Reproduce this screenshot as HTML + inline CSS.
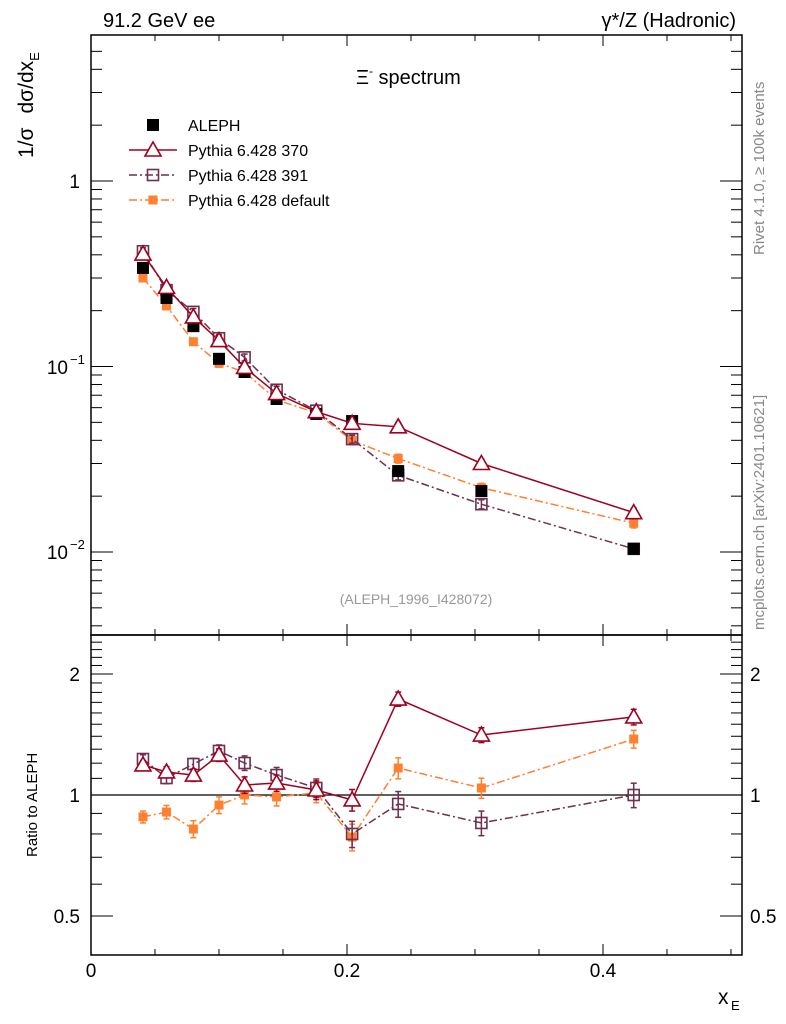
<!DOCTYPE html>
<html><head><meta charset="utf-8"><style>
body{margin:0;background:#fff}
svg{display:block;font-family:"Liberation Sans",sans-serif}
</style></head><body>
<svg id="c" width="786" height="1024" viewBox="0 0 786 1024" xmlns="http://www.w3.org/2000/svg"></svg>
<script>
const xVals=[0.0406,0.059,0.080,0.100,0.120,0.145,0.176,0.204,0.240,0.305,0.424];
const alephVals=[0.340,0.234,0.165,0.110,0.0934,0.0668,0.0555,0.0508,0.0273,0.0213,0.0104];
const alephErr=[0.015,0.01,0.007,0.005,0.004,0.003,0.0025,0.0025,0.0015,0.0012,0.0006];
const p370Vals=[0.404,0.267,0.185,0.138,0.0989,0.0715,0.0571,0.0494,0.0473,0.0300,0.0163];
const p391Vals=[0.418,0.258,0.197,0.142,0.112,0.0749,0.0578,0.0406,0.0259,0.0181,0.0104];
const pdefVals=[0.300,0.212,0.136,0.104,0.0934,0.0661,0.0562,0.0399,0.0319,0.0222,0.0143];
const r370Vals=[1.188,1.141,1.121,1.257,1.059,1.071,1.029,0.972,1.733,1.41,1.564];
const r391Vals=[1.229,1.102,1.194,1.287,1.201,1.121,1.041,0.80,0.95,0.852,1.0];
const rdefVals=[0.882,0.907,0.823,0.944,1.0,0.989,1.012,0.786,1.167,1.041,1.378];
const rErr=[0.03,0.035,0.04,0.045,0.05,0.05,0.055,0.06,0.07,0.06,0.07];
const xTickLabels=["0","0.2","0.4"];

const NS="http://www.w3.org/2000/svg";
const svg=document.getElementById('c');
const L=91,R=742,T=35,M=635,B=955;
const X=v=>L+v*1280;
const Y=v=>181-Math.log10(v)*185.5;
const YR=v=>795-Math.log2(v)*121;
function el(t,a,p){const e=document.createElementNS(NS,t);for(const k in a)e.setAttribute(k,a[k]);(p||svg).appendChild(e);return e;}
function txt(s,a,name){const e=el('text',a);e.textContent=s;return e;}
function tsp(parent,s,a){const t=el('tspan',a||{},parent);t.textContent=s;return t;}

let f1=el('rect',{x:L,y:T,width:R-L,height:M-T,fill:'none',stroke:'#000','stroke-width':1.5});


let f2=el('rect',{x:L,y:M,width:R-L,height:B-M,fill:'none',stroke:'#000','stroke-width':1.5});



for(let i=0;i<=10;i++){const v=i*0.05;const x=X(v);const maj=(i%4==0);const len=maj?11:6;
 for(const y0 of [T,M,B]){
  const dir=(y0==B)?-1:1;
  if(y0==M){el('line',{x1:x,y1:M,x2:x,y2:M-len,stroke:'#000'});}
  el('line',{x1:x,y1:y0,x2:x,y2:y0+dir*len,stroke:'#000'});
 }
}
xTickLabels.forEach((s,i)=>txt(s,{x:X(i*0.2),y:977,'font-size':19,'text-anchor':'middle'},'x-tick-label'));
for(let d=-3;d<=0;d++)for(let m=1;m<=9;m++){const v=m*Math.pow(10,d);if(v<0.0036||v>5.9)continue;const y=Y(v);const len=m==1?22:11;
 el('line',{x1:L,y1:y,x2:L+len,y2:y,stroke:'#000'});el('line',{x1:R,y1:y,x2:R-len,y2:y,stroke:'#000'});}
txt('1',{x:80,y:188,'font-size':19,'text-anchor':'end'},'y-tick-label');
txt('10',{x:68,y:374,'font-size':19,'text-anchor':'end'},'y-tick-label');
txt('−1',{x:70,y:364,'font-size':13},'y-tick-exp');
txt('10',{x:68,y:559,'font-size':19,'text-anchor':'end'},'y-tick-label');
txt('−2',{x:70,y:549,'font-size':13},'y-tick-exp');
const rt=[0.4,0.5,0.6,0.7,0.8,0.9,1,1.1,1.2,1.3,1.4,1.5,1.6,1.7,1.8,1.9,2,2.1,2.2,2.3,2.4];
rt.forEach(v=>{const y=YR(v);const maj=(v==0.5||v==1||v==2);const len=maj?22:11;
 el('line',{x1:L,y1:y,x2:L+len,y2:y,stroke:'#000'});el('line',{x1:R,y1:y,x2:R-len,y2:y,stroke:'#000'});});
[["0.5",0.5],["1",1],["2",2]].forEach(([s,v])=>{txt(s,{x:80,y:YR(v)+7,'font-size':19,'text-anchor':'end'},'ratio-tick-label');txt(s,{x:750,y:YR(v)+7,'font-size':19},'ratio-tick-label-right');});
let ref=el('line',{x1:L,y1:YR(1),x2:R,y2:YR(1),stroke:'#000','stroke-width':1.3});



txt('91.2 GeV ee',{x:103,y:27,'font-size':20},'energy-label');
txt('γ*/Z (Hadronic)',{x:736,y:27,'font-size':20,'text-anchor':'end'},'process-label');
const tt=txt('',{x:356,y:84,'font-size':20},'plot-title');
tsp(tt,'Ξ');tsp(tt,'-',{'font-size':12,dy:-9});tsp(tt,' spectrum',{dy:9});
txt('(ALEPH_1996_I428072)',{x:416,y:604,'font-size':14,fill:'#999','text-anchor':'middle'},'analysis-id');
txt('x',{x:718,y:1004,'font-size':21},'x-axis-title');
txt('E',{x:731,y:1010,'font-size':13},'x-axis-title-sub');
const yt=txt('',{x:0,y:0,'font-size':21,transform:'translate(33,158) rotate(-90)'},'y-axis-title');
tsp(yt,'1/σ');tsp(yt,'dσ/dx',{dx:14});tsp(yt,'E',{'font-size':13,dy:6});
txt('Ratio to ALEPH',{x:0,y:0,'font-size':15,transform:'translate(37,857) rotate(-90)'},'ratio-axis-title');
txt('Rivet 4.1.0, ≥ 100k events',{x:0,y:0,'font-size':15,fill:'#888',transform:'translate(764,255) rotate(-90)'},'rivet-label');
txt('mcplots.cern.ch [arXiv:2401.10621]',{x:0,y:0,'font-size':15,fill:'#888',transform:'translate(764,630) rotate(-90)'},'mcplots-label');

const C370='#a0001e',C391='#6e2f50',CDEF='#ff8030';
function marker(type,x,y,col,g){
 if(type=='sq')el('rect',{x:x-6,y:y-6,width:12,height:12,fill:col},g);
 else if(type=='osq')el('rect',{x:x-5.5,y:y-5.5,width:11,height:11,fill:'none',stroke:col,'stroke-width':1.6},g);
 else if(type=='tri')el('path',{d:`M${x},${y-8}L${x+8},${y+6}L${x-8},${y+6}Z`,fill:'#fff',stroke:col,'stroke-width':1.6},g);
 else if(type=='fsq')el('rect',{x:x-4.5,y:y-4.5,width:9,height:9,fill:col},g);
}
function series(vals,errs,yf,col,dash,mk,name,line){
 const g=el('g',{});
 
 
 if(line){let d='';vals.forEach((v,i)=>{d+=(i?'L':'M')+X(xVals[i])+','+yf(v);});
  el('path',{d,fill:'none',stroke:col,'stroke-width':1.5,'stroke-dasharray':dash},g);}
 vals.forEach((v,i)=>{const x=X(xVals[i]);const e=errs[i];
  const y1=yf(v+e),y2=yf(Math.max(v-e,1e-6));
  el('line',{x1:x,y1,x2:x,y2,stroke:col,'stroke-width':1.5},g);
  el('line',{x1:x-3,y1,x2:x+3,y2:y1,stroke:col,'stroke-width':1.5},g);
  el('line',{x1:x-3,y1:y2,x2:x+3,y2,stroke:col,'stroke-width':1.5},g);
  marker(mk,x,yf(v),col,g);});
}
const relE=alephErr.map((e,i)=>e/alephVals[i]);
series(pdefVals,pdefVals.map((v,i)=>v*relE[i]),Y,CDEF,'8,3,2,3','fsq','series-default',true);
series(p391Vals,p391Vals.map((v,i)=>v*relE[i]),Y,C391,'8,3,2,3','osq','series-391',true);
series(alephVals,alephErr,Y,'#000','','sq','series-aleph',false);
series(p370Vals,p370Vals.map((v,i)=>v*relE[i]),Y,C370,'','tri','series-370',true);
series(rdefVals,rErr,YR,CDEF,'8,3,2,3','fsq','ratio-default',true);
series(r391Vals,rErr,YR,C391,'8,3,2,3','osq','ratio-391',true);
series(r370Vals,rErr,YR,C370,'','tri','ratio-370',true);

const lg=el('g',{});


const ent=[['ALEPH','#000','','sq',false],['Pythia 6.428 370',C370,'','tri',true],['Pythia 6.428 391',C391,'8,3,2,3','osq',true],['Pythia 6.428 default',CDEF,'8,3,2,3','fsq',true]];
ent.forEach((e,i)=>{const y=125+i*25;
 if(e[4])el('line',{x1:129,y1:y,x2:177,y2:y,stroke:e[1],'stroke-width':1.5,'stroke-dasharray':e[2]},lg);
 marker(e[3],153,y,e[1],lg);
 const t=el('text',{x:188,y:y+6,'font-size':16},lg);t.textContent=e[0];
 
 
});
</script>
</body></html>
